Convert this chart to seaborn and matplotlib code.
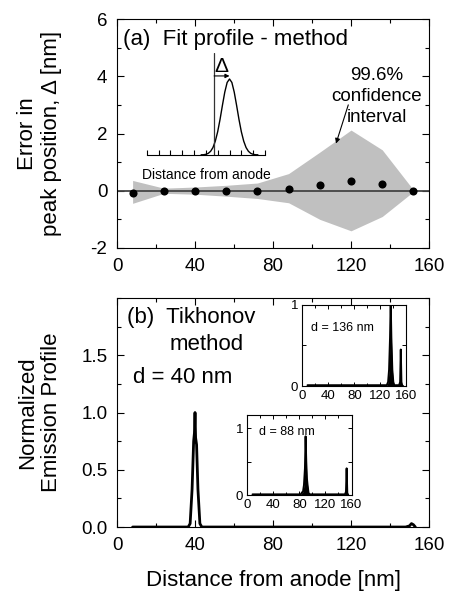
import numpy as np
import pandas as pd
import matplotlib
matplotlib.use("Agg")
import matplotlib.pyplot as plt
from matplotlib.ticker import MultipleLocator
import seaborn as sns

# ---------------- data ----------------
# panel (a): error in peak position vs. emitter distance
dist_a = [8, 24, 40, 56, 72, 88, 104, 120, 136, 152]
err_a = [-0.07, 0.0, 0.0, -0.02, -0.02, 0.05, 0.2, 0.35, 0.25, 0.0]
ci_upper = [0.36, 0.09, 0.13, 0.19, 0.27, 0.6, 1.35, 2.12, 1.43, 0.03]
ci_lower = [-0.44, -0.09, -0.12, -0.19, -0.27, -0.42, -1.0, -1.4, -0.9, -0.03]

# schematic inset: Gaussian profile, true position and shift
gauss_x = [4.6, 4.8, 5.0, 5.2, 5.4, 5.6, 5.8, 6.0, 6.2, 6.4, 6.6, 6.8, 7.0,
           7.2, 7.4, 7.6, 7.8, 8.0, 8.2, 8.4, 8.6, 8.8, 9.0, 9.2, 9.4]
gauss_y = [0.002, 0.0025, 0.0066, 0.016, 0.036, 0.073, 0.136, 0.228, 0.349,
           0.486, 0.616, 0.711, 0.745, 0.711, 0.616, 0.486, 0.349, 0.228,
           0.136, 0.073, 0.036, 0.016, 0.0066, 0.0025, 0.002]
true_pos = 5.7
fit_pos = 7.0

# panel (b): Tikhonov reconstructed profiles
x_d40 = [8, 36.5, 37.5, 38.5, 39.3, 39.7, 40.0, 40.3, 40.8, 41.5, 42.5, 43.5,
         148, 150, 151, 152, 153]
y_d40 = [0, 0, 0.03, 0.33, 0.75, 0.82, 1.0, 0.78, 0.72, 0.33, 0.03, 0,
         0, 0.01, 0.03, 0.02, 0]

x_d136 = [8, 130, 132, 133.5, 135, 136, 137, 138.5, 140, 141.5,
          149, 150.5, 151.5, 152.5, 153.5, 155]
y_d136 = [0.01, 0.01, 0.05, 0.2, 0.6, 1.05, 0.6, 0.2, 0.05, 0.01,
          0.01, 0.05, 0.45, 0.05, 0.01, 0.0]

x_d88 = [8, 82, 84, 85.5, 87, 88.5, 89.5, 90.5, 91.5, 92.5, 94, 96,
         150, 151.5, 152.5, 153.5, 155]
y_d88 = [0.01, 0.01, 0.04, 0.05, 0.15, 0.4, 0.88, 0.5, 0.25, 0.15, 0.03, 0.01,
         0.01, 0.05, 0.4, 0.03, 0.0]

x_ticks_main = [0, 40, 80, 120, 160]

# ---------------- style ----------------
sns.set_theme(style="ticks")
plt.rcParams["font.family"] = ["Liberation Sans", "DejaVu Sans"]
plt.rcParams["axes.linewidth"] = 0.8
plt.rcParams["axes.edgecolor"] = "black"
plt.rcParams["axes.unicode_minus"] = False
plt.rcParams["text.color"] = "black"
plt.rcParams["axes.labelcolor"] = "black"
plt.rcParams["xtick.color"] = "black"
plt.rcParams["ytick.color"] = "black"

fig = plt.figure(figsize=(4.49, 5.98), dpi=100)

def style_main(ax):
    ax.tick_params(which="both", direction="in", top=True, right=True,
                   labelsize=13.5, pad=7, width=0.8, color="black",
                   labelcolor="black")
    ax.tick_params(which="major", length=4.8)
    ax.tick_params(which="minor", length=3.0)
    for s in ax.spines.values():
        s.set_linewidth(0.8)
        s.set_color("black")

# ---------------- panel (a) ----------------
axA = fig.add_axes([0.2606, 0.5853, 0.6949, 0.3829])
df_a = pd.DataFrame({"d": dist_a, "err": err_a, "lo": ci_lower, "hi": ci_upper})
axA.fill_between(df_a["d"], df_a["lo"], df_a["hi"], color="#c0c0c0", lw=0, zorder=1)
axA.axhline(0, color="#444444", lw=1.3, zorder=2)
sns.scatterplot(data=df_a, x="d", y="err", ax=axA, color="black", s=34,
                edgecolor="black", linewidth=0, zorder=4, legend=False)
axA.set_xlim(0, 160)
axA.set_ylim(-2, 6)
axA.set_xticks(x_ticks_main)
axA.xaxis.set_minor_locator(MultipleLocator(20))
axA.yaxis.set_major_locator(MultipleLocator(2))
axA.yaxis.set_minor_locator(MultipleLocator(1))
style_main(axA)
axA.set_xlabel("")
axA.set_ylabel("Error in\npeak position, \u0394 [nm]", fontsize=16)
axA.yaxis.set_label_coords(-0.176, 0.5)
axA.text(3, 5.3, "(a)  Fit profile - method", fontsize=16, ha="left", va="center")
axA.text(133.2, 3.28, "99.6%\nconfidence\ninterval", fontsize=13.5,
         ha="center", va="center", linespacing=1.3)
axA.annotate("", xy=(112.3, 1.65), xytext=(118.6, 3.0),
             arrowprops=dict(arrowstyle="-|>", color="black", lw=0.8,
                             mutation_scale=7, shrinkA=0, shrinkB=0))

# schematic inset of panel (a)
axI = fig.add_axes([0.3267, 0.7408, 0.2635, 0.1706])
axI.set_facecolor("none")
sns.lineplot(x=gauss_x, y=gauss_y, ax=axI, color="black", lw=1.0,
             sort=False, estimator=None)
axI.plot([true_pos, true_pos], [0, 1.0], color="#333333", lw=0.9)
axI.annotate("", xy=(fit_pos, 0.775), xytext=(true_pos, 0.775),
             arrowprops=dict(arrowstyle="-|>", color="black", lw=0.8,
                             mutation_scale=6, shrinkA=0, shrinkB=0))
axI.text(6.3, 0.87, "\u0394", fontsize=15, ha="center", va="center")
axI.set_xlim(0, 10)
axI.set_ylim(0, 1)
axI.set_xticks(range(0, 11))
axI.set_yticks([])
axI.tick_params(axis="x", direction="in", length=3.5, width=0.8,
                labelbottom=False, color="black")
for side in ["top", "right", "left"]:
    axI.spines[side].set_visible(False)
axI.spines["bottom"].set_linewidth(0.8)
axI.spines["bottom"].set_color("black")
axI.text(0.505, -0.196, "Distance from anode", transform=axI.transAxes,
         fontsize=10, ha="center", va="center")

# ---------------- panel (b) ----------------
axB = fig.add_axes([0.2606, 0.1187, 0.6949, 0.3829])
sns.lineplot(x=x_d40, y=y_d40, ax=axB, color="black", lw=2.0,
             sort=False, estimator=None, zorder=3)
axB.set_xlim(0, 160)
axB.set_ylim(0, 2.0)
axB.set_xticks(x_ticks_main)
axB.xaxis.set_minor_locator(MultipleLocator(20))
axB.set_yticks([0.0, 0.5, 1.0, 1.5])
axB.set_yticklabels(["0.0", "0.5", "1.0", "1.5"])
axB.yaxis.set_minor_locator(MultipleLocator(0.25))
style_main(axB)
axB.set_ylabel("Normalized\nEmission Profile", fontsize=16)
axB.yaxis.set_label_coords(-0.176, 0.5)
axB.set_xlabel("Distance from anode [nm]", fontsize=16, labelpad=12)
axB.text(5.1, 1.83, "(b)  Tikhonov", fontsize=16, ha="left", va="center")
axB.text(46.2, 1.59, "method", fontsize=16, ha="center", va="center")
axB.text(8.2, 1.31, "d = 40 nm", fontsize=16, ha="left", va="center")

def style_inset(ax, ytop):
    ax.set_xlim(0, 160)
    ax.set_ylim(0, ytop)
    ax.set_xticks(x_ticks_main)
    ax.xaxis.set_minor_locator(MultipleLocator(20))
    ax.set_yticks([0, 0.5, 1])
    ax.set_yticklabels(["0", "", "1"])
    ax.tick_params(which="both", direction="in", top=True, right=True,
                   labelsize=9.5, pad=3, width=0.7, color="black",
                   labelcolor="black")
    ax.tick_params(which="major", length=3.2)
    ax.tick_params(which="minor", length=2.2)
    for s in ax.spines.values():
        s.set_linewidth(0.8)
        s.set_color("black")
    ax.set_xlabel("")
    ax.set_ylabel("")

# inset d = 136 nm
axC = fig.add_axes([0.6733, 0.3545, 0.2316, 0.1355])
axC.fill_between(x_d136, 0, y_d136, color="black", lw=0)
sns.lineplot(x=x_d136, y=y_d136, ax=axC, color="black", lw=1.4,
             sort=False, estimator=None)
style_inset(axC, 1.0)
axC.text(13.4, 0.72, "d = 136 nm", fontsize=9, ha="left", va="center")

# inset d = 88 nm
axD = fig.add_axes([0.5508, 0.1722, 0.2321, 0.1338])
axD.fill_between(x_d88, 0, y_d88, color="black", lw=0)
sns.lineplot(x=x_d88, y=y_d88, ax=axD, color="black", lw=1.4,
             sort=False, estimator=None)
style_inset(axD, 1.2)
axD.text(18, 0.94, "d = 88 nm", fontsize=9, ha="left", va="center")

fig.savefig("out.png", dpi=100)
